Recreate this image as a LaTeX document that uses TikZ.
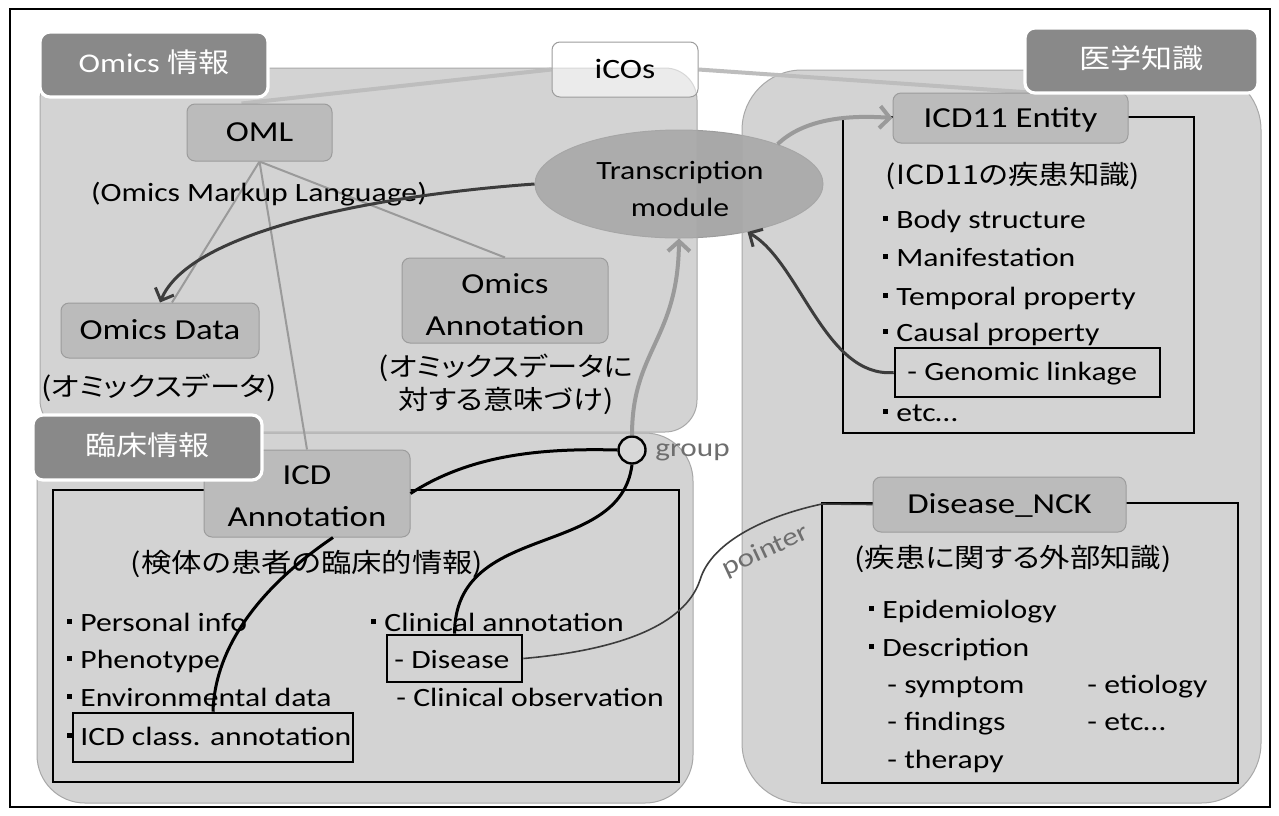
\documentclass[tikz,border=0pt]{standalone}
\usepackage{fontspec}
\setmainfont{Carlito}[FakeStretch=1.2]
\newfontfamily\jp{Noto Sans CJK JP}[FakeStretch=1.15,RawFeature=+palt]
\usetikzlibrary{arrows.meta,shapes.geometric,calc}
\pgfdeclarelayer{back}
\pgfdeclarelayer{mid}
\pgfsetlayers{back,mid,main}
\definecolor{tabgray}{HTML}{898989}
\definecolor{panelgray}{HTML}{B0B0B0}
\definecolor{paneledge}{HTML}{A8A8A8}
\definecolor{boxgray}{HTML}{BBBBBB}
\definecolor{boxedge}{HTML}{9C9C9C}
\definecolor{ellgray}{HTML}{A8A8A8}
\definecolor{linegray}{HTML}{9A9A9A}
\definecolor{icosgray}{HTML}{BDBDBD}
\definecolor{darkline}{HTML}{3C3C3C}
\definecolor{lblgray}{HTML}{6E6E6E}
\definecolor{circfill}{HTML}{D8D8D8}
\newcommand\bul{\makebox[6.5pt][l]{\raisebox{3.8pt}{\rule{2.2pt}{2.2pt}}}}
\tikzset{
  panel/.style={draw=paneledge, line width=0.5pt, fill=panelgray, fill opacity=0.55},
  innerrect/.style={draw=black, line width=0.6pt},
  tab/.style={draw=white, line width=1.6pt, fill=tabgray, rounded corners=5pt, text=white,
    font=\fontsize{13.5}{16}\selectfont, inner sep=0pt, minimum height=32.5pt,
    text height=10.5pt, text depth=2.1pt},
  box/.style={draw=boxedge, line width=0.5pt, fill=boxgray, rounded corners=4pt, inner sep=0pt,
    font=\fontsize{14.5}{20}\selectfont, text height=11.5pt, text depth=2.3pt},
  boxtxt/.style={inner sep=0pt, align=center, font=\fontsize{14.5}{21}\selectfont},
  icosbox/.style={draw=boxedge, line width=0.5pt, fill=white, fill opacity=0.55, text opacity=1,
    rounded corners=4pt, inner sep=0pt, font=\fontsize{14}{16}\selectfont,
    text height=11pt, text depth=2.2pt},
  lst/.style={anchor=west, inner sep=0pt, font=\fontsize{13.2}{16}\selectfont,
    text height=10.5pt, text depth=2.1pt},
  ctr/.style={inner sep=0pt, font=\fontsize{13.2}{16}\selectfont, text height=10.5pt, text depth=2.1pt},
  jpl/.style={inner sep=0pt, font=\jp\fontsize{13.2}{16}\selectfont, text height=11.5pt, text depth=2.3pt},
  hl/.style={draw=black, line width=1.3pt, inner sep=0pt},
  lbl/.style={inner sep=0pt, text=lblgray, font=\fontsize{13}{15}\selectfont},
  omlline/.style={draw=linegray, line width=1pt},
  icosline/.style={draw=icosgray, line width=2pt},
  darkarrow/.style={draw=darkline, line width=1.5pt, -{Straight Barb[length=5pt,width=10pt]}},
  grayarrow/.style={draw=linegray, line width=2pt, -{Straight Barb[length=5pt,width=11pt]}},
  blk/.style={draw=black, line width=1.5pt},
  ptrline/.style={draw=darkline, line width=0.8pt}
}
\begin{document}
\begin{tikzpicture}[x=0.5pt,y=-0.5pt]
\useasboundingbox (0,0) rectangle (1279,815);
\begin{pgfonlayer}{back}
  \fill[white] (0,0) rectangle (1279,815);
  \draw[line width=0.8pt] (10,9) rectangle (1270,807);
  \node[ellipse, fill=ellgray, draw=boxedge, line width=0.5pt, minimum width=144pt, minimum height=54pt, inner sep=0pt] (tm) at (679,184) {};
  \draw[panel, rounded corners=16pt] (40,68) rectangle (697,432);
  \draw[panel, rounded corners=24pt] (37,433) rectangle (693,803);
  \draw[panel, rounded corners=30pt] (742,70) rectangle (1261,803);
  \draw[innerrect] (843,117) rectangle (1194,433);
  \draw[innerrect] (53,490) rectangle (679,782);
  \draw[innerrect] (822,503) rectangle (1238,783);
\end{pgfonlayer}

% boxes
\node[box, minimum width=72.5pt, minimum height=28.5pt] (oml) at (259.5,132.5) {OML};
\node[box, minimum width=99pt, minimum height=27.5pt] (omicsdata) at (160,330.5) {Omics Data};
\node[box, minimum width=103pt, minimum height=42.5pt] (omicsann) at (505,300.5) {};
\node[boxtxt] (omicsannt) at (505,305) {Omics\\Annotation};
\node[box, minimum width=103pt, minimum height=43.5pt] (icdann) at (307,493.5) {};
\node[boxtxt] (icdannt) at (307,496.5) {ICD\\Annotation};
\node[box, minimum width=117.5pt, minimum height=25pt] (icd11) at (1010.5,118) {ICD11 Entity};
\node[box, minimum width=126.5pt, minimum height=27.5pt] (dnck) at (999.5,504.5) {Disease\_NCK};
\node[icosbox, minimum width=73pt, minimum height=27.5pt] (icos) at (625,69.5) {iCOs};
\node[boxtxt, font=\fontsize{13.2}{18.5}\selectfont] (tmt) at (680,188.5) {Transcription\\module};

% lines under boxes
\begin{pgfonlayer}{mid}
  \draw[icosline] (icos.west) -- ([xshift=-9pt]oml.north);
  \draw[icosline] (icos.east) -- ([xshift=10pt]icd11.north);
  \draw[omlline] (oml.south) -- ([xshift=6pt]omicsdata.north);
  \draw[omlline] (oml.south) -- (icdann.north);
  \draw[omlline] (oml.south) -- (omicsann.north);
\end{pgfonlayer}

% tabs
\node[tab, minimum width=114pt] (omtab) at (154,64.5) {Omics {\jp 情報}};
\node[tab, minimum width=116.5pt] (igtab) at (1141.5,60.5) {{\jp 医学知識}};
\node[tab, minimum width=114.5pt] (rstab) at (147.5,447.5) {{\jp 臨床情報}};

% sub captions
\node[ctr] (omlsub) at (259,193) {(Omics Markup Language)};
\node[jpl] (odsub) at (159,387) {(オミックスデータ)};
\node[jpl] (oasub1) at (506,367) {(オミックスデータに};
\node[jpl] (oasub2) at (506,400) {対する意味づけ)};
\node[jpl] (icdsub) at (307,563) {(検体の患者の臨床的情報)};
\node[jpl] (i11sub) at (1013,175) {(ICD11の疾患知識)};
\node[jpl] (dnsub) at (1013,558) {(疾患に関する外部知識)};

% ICD11 list
\node[lst] (b1) at (883,220) {\bul Body structure};
\node[lst] (b2) at (883,258) {\bul Manifestation};
\node[lst] (b3) at (883,297) {\bul Temporal property};
\node[lst] (b4) at (883,333) {\bul Causal property};
\node[lst] (b5) at (907,372) {- Genomic linkage};
\node[lst] (b6) at (883,413) {\bul etc…};
\node[hl, minimum width=132.5pt, minimum height=24.5pt] (genbox) at (1027.5,372.5) {};

% clinical list
\node[lst] (p1) at (67,623) {\bul Personal info};
\node[lst] (p2) at (67,660) {\bul Phenotype};
\node[lst] (p3) at (67,698) {\bul Environmental data};
\node[lst] (p4) at (67,737) {\bul ICD class. annotation};
\node[hl, minimum width=140pt, minimum height=24.5pt] (clsbox) at (213,737.5) {};
\node[lst] (c1) at (371,623) {\bul Clinical annotation};
\node[lst] (c2) at (394,660) {- Disease};
\node[hl, minimum width=67.5pt, minimum height=23.5pt] (disbox) at (454.5,658.5) {};
\node[lst] (c3) at (396,698) {- Clinical observation};

% Disease_NCK list
\node[lst] (d1) at (869,610) {\bul Epidemiology};
\node[lst] (d2) at (869,648) {\bul Description};
\node[lst] (d3) at (887,685) {- symptom};
\node[lst] (d4) at (1087,685) {- etiology};
\node[lst] (d5) at (887,722) {- findings};
\node[lst] (d6) at (1087,722) {- etc…};
\node[lst] (d7) at (887,760) {- therapy};

% group
\node[circle, draw=black, line width=1.2pt, fill=circfill, minimum size=13.5pt, inner sep=0pt] (grp) at (632,450) {};
\node[lbl, anchor=west] (grplbl) at (655,452) {group};
\node[lbl, rotate=25] (ptrlbl) at (766,551) {pointer};
\coordinate (ptrcorner) at (822,504);

% connectors
\draw[darkarrow] (tm.west) .. controls (380,195) and (190,230) .. (omicsdata.north);
\draw[grayarrow] (grp.north) .. controls (632,350) and (678,340) .. (tm.south);
\draw[grayarrow] (tm.22) .. controls (805,118) and (850,115) .. (icd11.west);
\draw[darkarrow] (genbox.west) .. controls (825,378) and (800,262) .. (tm.-35);
\draw[blk] (grp.west) .. controls (540,448) and (470,455) .. (icdann.east);
\draw[blk] ([xshift=13pt]icdann.south) .. controls (270,580) and (215,640) .. (clsbox.north);
\draw[blk] (grp.south) .. controls (620,560) and (455,520) .. (disbox.north);
\draw[ptrline] (disbox.east) .. controls (620,650) and (685,625) .. (700,580) .. controls (712,540) and (770,515) .. (ptrcorner) -- (dnck.west);
\end{tikzpicture}
\end{document}
